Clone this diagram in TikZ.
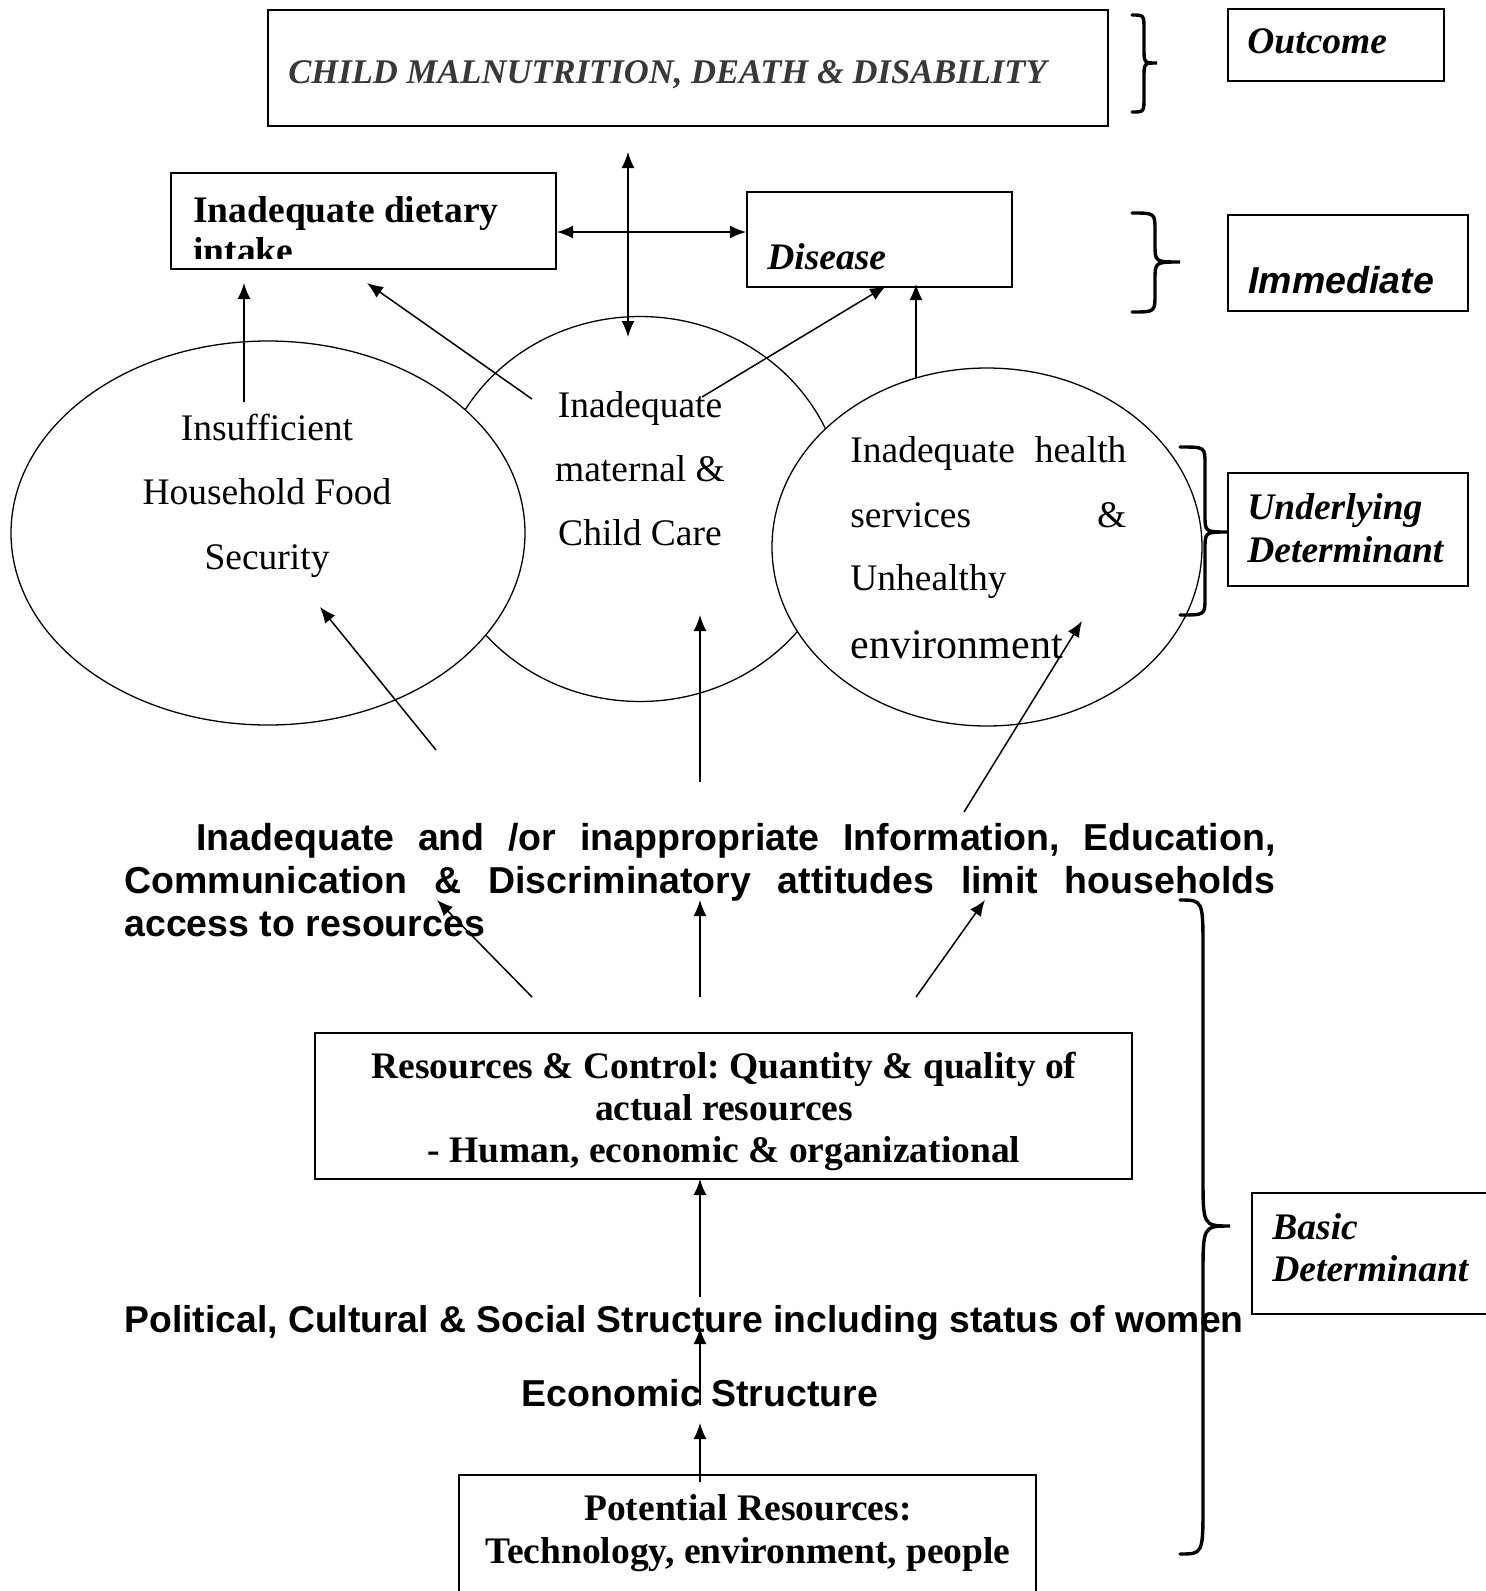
\documentclass[tikz,border=0pt]{standalone}
\usepackage{fontspec}
\setmainfont{Liberation Serif}
\setsansfont{Liberation Sans}
\usetikzlibrary{arrows.meta,shapes.geometric}
\frenchspacing
\newcommand{\rightbrace}[8]{% x0, xs, x1, ytop, ytip, ybot, r, name
  \draw[bracestyle] (#1,#4) .. controls (#2,#4) .. (#2,{#4+#7})
    -- (#2,{#5-#7}) .. controls (#2,#5) .. (#3,#5) coordinate (#8)
    .. controls (#2,#5) .. (#2,{#5+#7})
    -- (#2,{#6-#7}) .. controls (#2,#6) .. (#1,#6);}
\begin{document}
\begin{tikzpicture}[x=0.5pt,y=-0.5pt,
  box/.style={draw, line width=1pt, rectangle, inner sep=0pt},
  oval/.style={draw, line width=0.65pt, ellipse, inner sep=0pt},
  ser/.style={inner sep=0pt, font=\fontsize{18.75}{22}\selectfont},
  serb/.style={inner sep=0pt, font=\fontsize{18.75}{22}\selectfont\bfseries},
  serbi/.style={inner sep=0pt, font=\fontsize{18.75}{22}\selectfont\bfseries\itshape},
  sansb/.style={inner sep=0pt, font=\fontsize{18.75}{22}\selectfont\sffamily\bfseries},
  arr/.style={line width=0.75pt, -{Latex[length=8pt,width=6.5pt]}},
  darr/.style={line width=0.75pt, {Latex[length=8pt,width=6.5pt]}-{Latex[length=8pt,width=6.5pt]}},
  bracestyle/.style={line width=1.7pt, line cap=round}
]
\useasboundingbox (0,0) rectangle (1485,1591);
\fill[white] (0,0) rectangle (1485,1591);

% ---------- boxes ----------
\node[box, minimum width=420pt, minimum height=58pt] (title) at (688,68) {};
\node[serbi, anchor=base west, text=black!78, font=\fontsize{17.3}{20}\selectfont\bfseries\itshape] (titletxt) at (288,83) {CHILD MALNUTRITION, DEATH \& DISABILITY};

\node[box, minimum width=108pt, minimum height=36pt] (outbox) at (1336,45) {};
\node[serbi, anchor=base west] (outtxt) at (1247,53) {Outcome};

\node[box, minimum width=192.5pt, minimum height=48pt] (diet) at (363.5,221) {};
\node[serb, anchor=base west] (dietA) at (193,222) {Inadequate dietary};
\begin{scope}
  \clip (180,230) rectangle (540,258);
  \node[serb, anchor=base west] (dietB) at (193,263) {intake};
\end{scope}

\node[box, minimum width=132.5pt, minimum height=47.5pt] (dis) at (879.5,239.5) {};
\node[serbi, anchor=base west] (distxt) at (767,269) {Disease};

\node[box, minimum width=120pt, minimum height=48pt] (immbox) at (1348,263) {};
\node[sansb, anchor=base west, font=\fontsize{18.75}{22}\selectfont\sffamily\bfseries\itshape] (immtxt) at (1248,293) {Immediate};

\node[box, minimum width=120pt, minimum height=56.5pt] (undbox) at (1348,529.5) {};
\node[serbi, anchor=base west] (undA) at (1247,519) {Underlying};
\node[serbi, anchor=base west] (undB) at (1247,562) {Determinant};

\node[box, minimum width=134pt, minimum height=60.5pt] (basbox) at (1386,1253.5) {};
\node[serbi, anchor=base west] (basA) at (1272,1239) {Basic};
\node[serbi, anchor=base west] (basB) at (1272,1281) {Determinant};

\node[box, minimum width=408.5pt, minimum height=73pt] (res) at (723.5,1106) {};
\node[serb, anchor=base] (resA) at (724,1078) {Resources \& Control: Quantity \& quality of};
\node[serb, anchor=base] (resB) at (724,1120) {actual resources};
\node[serb, anchor=base] (resC) at (724,1162) {- Human, economic \& organizational};

\node[box, minimum width=288.5pt, minimum height=82.5pt] (pot) at (747.5,1557.5) {};
\node[serb, anchor=base] (potA) at (748,1520) {Potential Resources:};
\node[serb, anchor=base] (potB) at (748,1563) {Technology, environment, people};

% ---------- ellipses ----------
\node[oval, minimum width=204pt, minimum height=192.5pt] (e2) at (640,509) {};
\node[oval, fill=white, minimum width=257pt, minimum height=192pt] (e1) at (268,533) {};
\node[oval, fill=white, minimum width=215pt, minimum height=179pt] (e3) at (987,547) {};

\node[ser, anchor=base] (e1a) at (267,440) {Insufficient};
\node[ser, anchor=base] (e1b) at (267,504) {Household Food};
\node[ser, anchor=base] (e1c) at (267,569) {Security};

\node[ser, anchor=base] (e2a) at (640,417) {Inadequate};
\node[ser, anchor=base] (e2b) at (640,481) {maternal \&};
\node[ser, anchor=base] (e2c) at (640,545) {Child Care};

\node[ser, anchor=base west] (e3a) at (850,462) {\makebox[138pt][s]{Inadequate health}};
\node[ser, anchor=base west] (e3b) at (850,527) {\makebox[138pt][s]{services \&}};
\node[ser, anchor=base west] (e3c) at (850,590) {Unhealthy};
\node[ser, anchor=base west, font=\fontsize{21}{24}\selectfont] (e3d) at (850,658) {environment};

% ---------- sans texts ----------
\node[sansb, anchor=base west] (infoA) at (196,850) {\makebox[539.5pt][s]{Inadequate and /or inappropriate Information, Education,}};
\node[sansb, anchor=base west] (infoB) at (124,893) {\makebox[575.5pt][s]{Communication \& Discriminatory attitudes limit households}};
\node[sansb, anchor=base west] (infoC) at (124,936) {access to resources};

\node[sansb, anchor=base west, font=\fontsize{18.65}{22}\selectfont\sffamily\bfseries] (pol) at (124,1332) {Political, Cultural \& Social Structure including status of women};
\node[sansb, anchor=base] (eco) at (700,1406) {Economic Structure};

% ---------- braces ----------
\rightbrace{1132}{1144}{1157}{15}{63}{112}{15}{brO}
\rightbrace{1132}{1155}{1180}{213}{262}{312}{18}{brI}
\rightbrace{1180}{1205}{1228}{447}{532}{615}{17}{brU}
\rightbrace{1180}{1203}{1230}{900}{1226}{1554}{50}{brB}

% ---------- connector end points ----------
\coordinate (vA) at (628,152);
\coordinate (vB) at (628,337);
\coordinate (a1s) at (244,402);  \coordinate (a1t) at (244,283);
\coordinate (a2s) at (532,399);  \coordinate (a2t) at (367,283);
\coordinate (a3s) at (702,397);  \coordinate (a3t) at (886,286);
\coordinate (a4s) at (916,378);  \coordinate (a4t) at (916,284);
\coordinate (b1s) at (436,750);  \coordinate (b1t) at (320,607);
\coordinate (b2s) at (700,782);  \coordinate (b2t) at (700,615);
\coordinate (b3s) at (964,812);  \coordinate (b3t) at (1082,621);
\coordinate (c1s) at (532,997);  \coordinate (c1t) at (437,900);
\coordinate (c2s) at (700,997);  \coordinate (c2t) at (700,900);
\coordinate (c3s) at (916,997);  \coordinate (c3t) at (985,900);
\coordinate (d1s) at (700,1297); \coordinate (d1t) at (700,1179);
\coordinate (d2s) at (700,1405); \coordinate (d2t) at (700,1328);
\coordinate (d3s) at (700,1482); \coordinate (d3t) at (700,1423);

% ---------- connectors ----------
\draw[darr] (vA) -- (vB);
\draw[darr] ([yshift=-5.5pt]diet.east) -- ([yshift=3.75pt]dis.west);
\draw[arr] (a1s) -- (a1t);
\draw[arr] (a2s) -- (a2t);
\draw[arr] (a3s) -- (a3t);
\draw[arr] (a4s) -- (a4t);
\draw[arr] (b1s) -- (b1t);
\draw[arr] (b2s) -- (b2t);
\draw[arr] (b3s) -- (b3t);
\draw[arr] (c1s) -- (c1t);
\draw[arr] (c2s) -- (c2t);
\draw[arr] (c3s) -- (c3t);
\draw[arr] (d1s) -- (d1t);
\draw[arr] (d2s) -- (d2t);
\draw[arr] (d3s) -- (d3t);
\end{tikzpicture}
\end{document}
